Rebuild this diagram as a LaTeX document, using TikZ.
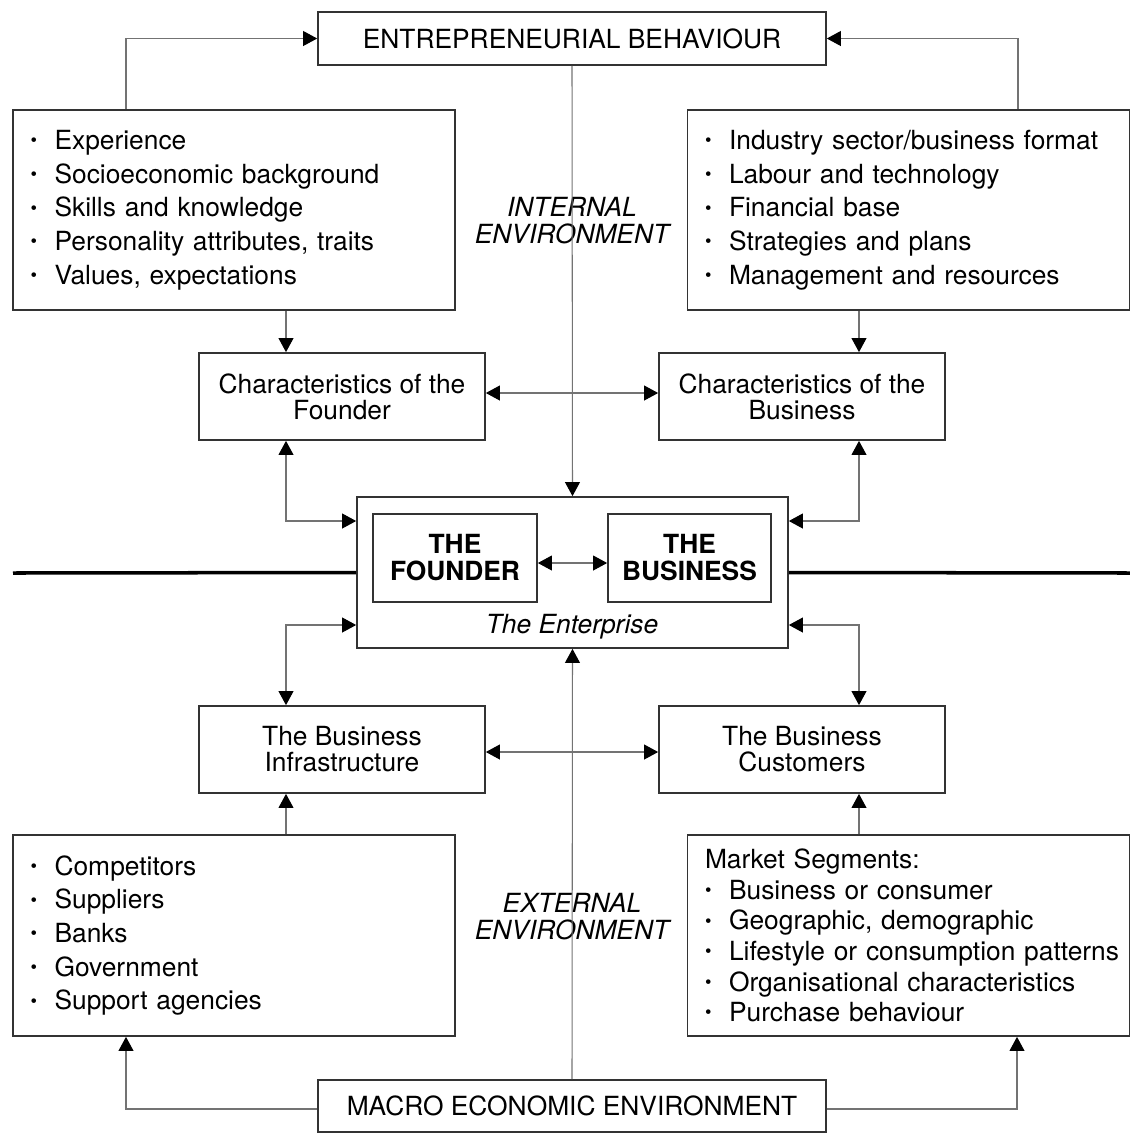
\documentclass[tikz,border=0pt]{standalone}
\usepackage{fontspec}
\setmainfont{TeX Gyre Heros}
\usetikzlibrary{arrows.meta}
\newcommand{\bul}{\makebox[0.48cm][l]{\raisebox{1.5pt}{\fontsize{10.5}{10.5}\selectfont\textbullet}}}
\tikzset{
  box/.style={draw=black!80, line width=1pt, align=center, inner sep=0pt, font=\fontsize{15}{14.8}\selectfont},
  listbox/.style={draw=black!80, line width=1pt, align=left, inner xsep=0.35cm, text width=8.14cm, minimum height=4cm, font=\fontsize{15}{19.2}\selectfont},
  conn/.style={draw=black!55, line width=0.6pt},
}
\begin{document}
\begin{tikzpicture}[x=0.02cm, y=-0.02cm, >={Triangle[length=8pt,width=8.5pt,color=black]}]
    \useasboundingbox (0,0) rectangle (1130,1134);
    % internal environment
    \node[box, minimum width=10.16cm, minimum height=1.06cm] (eb) at (572,38.5) {ENTREPRENEURIAL BEHAVIOUR};
    \node[listbox] (lt) at (234,210) {\bul Experience\\ \bul Socioeconomic background\\ \bul Skills and knowledge\\ \bul Personality attributes, traits\\ \bul Values, expectations};
    \node[listbox] (rt) at (908.5,210) {\bul Industry sector/business format\\ \bul Labour and technology\\ \bul Financial base\\ \bul Strategies and plans\\ \bul Management and resources};
    \node[font=\fontsize{15}{15.4}\selectfont\itshape, align=center] (intl) at (572,221) {INTERNAL\\ENVIRONMENT};
    \node[box, minimum width=5.72cm, minimum height=1.74cm] (cf) at (342,396.5) {Characteristics of the\\Founder};
    \node[box, minimum width=5.72cm, minimum height=1.74cm] (cb) at (802,396.5) {Characteristics of the\\Business};
    % the enterprise
    \node[box, minimum width=8.62cm, minimum height=3.02cm] (ent) at (572.5,572.5) {};
    \node[box, font=\fontsize{15}{15.4}\selectfont\bfseries, minimum width=3.28cm, minimum height=1.76cm] (tf) at (455,558) {THE\\FOUNDER};
    \node[box, font=\fontsize{15}{15.4}\selectfont\bfseries, minimum width=3.26cm, minimum height=1.76cm] (tb) at (689.5,558) {THE\\BUSINESS};
    \node[font=\fontsize{15}{18}\selectfont\itshape] (entl) at (572,627) {The Enterprise};
    \coordinate (lineL) at (13,573);
    \coordinate (lineR) at (1130,573);
    \draw[line width=2pt] (lineL) -- (ent.west);
    \draw[line width=2pt] (ent.east) -- (lineR);
    % external environment
    \node[box, minimum width=5.72cm, minimum height=1.74cm] (inf) at (342,749.5) {The Business\\Infrastructure};
    \node[box, minimum width=5.72cm, minimum height=1.74cm] (cus) at (802,749.5) {The Business\\Customers};
    \node[listbox, minimum height=4.02cm] (lb) at (234,935.5) {\bul Competitors\\ \bul Suppliers\\ \bul Banks\\ \bul Government\\ \bul Support agencies};
    \node[listbox, minimum height=4.02cm, font=\fontsize{15}{17.4}\selectfont] (rb) at (908.5,935.5) {Market Segments:\\ \bul Business or consumer\\ \bul Geographic, demographic\\ \mbox{\bul Lifestyle or consumption patterns}\\ \bul Organisational characteristics\\ \bul Purchase behaviour};
    \node[font=\fontsize{15}{15.4}\selectfont\itshape, align=center] (extl) at (572,917) {EXTERNAL\\ENVIRONMENT};
    \node[box, minimum width=10.16cm, minimum height=1.04cm] (me) at (572,1106) {MACRO ECONOMIC ENVIRONMENT};
    % connectors
    \draw[conn, ->] (126,0 |- lt.north) |- (eb.west);
    \draw[conn, ->] (1018,0 |- rt.north) |- (eb.east);
    \draw[conn, ->] (eb.south) -- (ent.north);
    \draw[conn, ->] (286,0 |- lt.south) -- (286,0 |- cf.north);
    \draw[conn, ->] (859,0 |- rt.south) -- (859,0 |- cb.north);
    \draw[conn, <->] (cf.east |- 0,393) -- (cb.west |- 0,393);
    \draw[conn, <->] (286,0 |- cf.south) |- (ent.west |- 0,521);
    \draw[conn, <->] (859,0 |- cb.south) |- (ent.east |- 0,521);
    \draw[conn, <->] (tf.east |- 0,563) -- (tb.west |- 0,563);
    \draw[conn, <->] (ent.west |- 0,625) -| (286,0 |- inf.north);
    \draw[conn, <->] (ent.east |- 0,625) -| (859,0 |- cus.north);
    \draw[conn, <->] (inf.east |- 0,752) -- (cus.west |- 0,752);
    \draw[conn, ->] (286,0 |- lb.north) -- (286,0 |- inf.south);
    \draw[conn, ->] (859,0 |- rb.north) -- (859,0 |- cus.south);
    \draw[conn, ->] (me.north) -- (ent.south);
    \draw[conn, ->] (me.west |- 0,1109) -| (126,0 |- lb.south);
    \draw[conn, ->] (me.east |- 0,1109) -| (1017,0 |- rb.south);
\end{tikzpicture}
\end{document}
